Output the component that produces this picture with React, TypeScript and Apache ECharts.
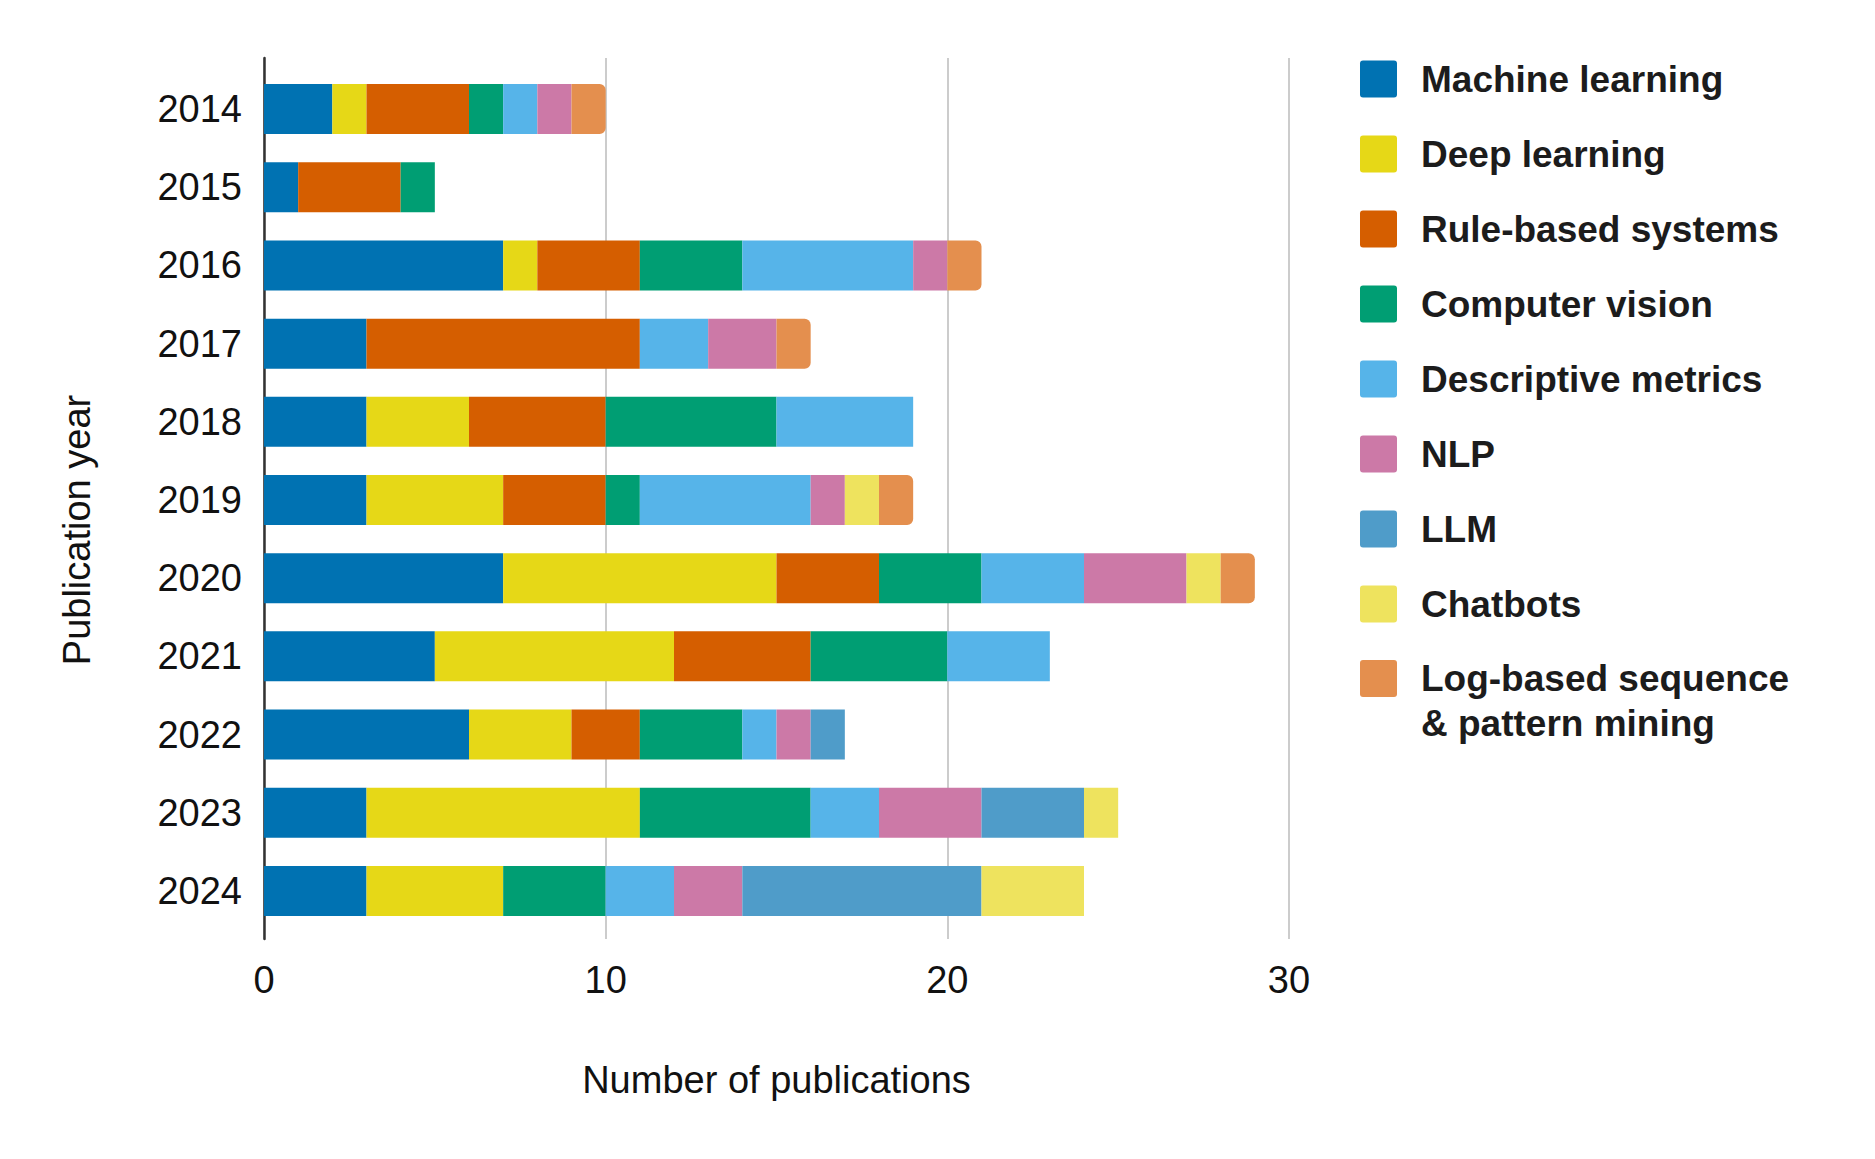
import React, { useEffect, useRef } from "react";
import * as echarts from "echarts";

const YEARS = ["2014", "2015", "2016", "2017", "2018", "2019", "2020", "2021", "2022", "2023", "2024"];
const SERIES_NAMES = [
  "Machine learning",
  "Deep learning",
  "Rule-based systems",
  "Computer vision",
  "Descriptive metrics",
  "NLP",
  "LLM",
  "Chatbots",
  "Log-based sequence & pattern mining",
];
const ML = [2, 1, 7, 3, 3, 3, 7, 5, 6, 3, 3];
const DL = [1, 0, 1, 0, 3, 4, 8, 7, 3, 8, 4];
const RULE = [3, 3, 3, 8, 4, 3, 3, 4, 2, 0, 0];
const CV = [1, 1, 3, 0, 5, 1, 3, 4, 3, 5, 3];
const DESC = [1, 0, 5, 2, 4, 5, 3, 3, 1, 2, 2];
const NLP = [1, 0, 1, 2, 0, 1, 3, 0, 1, 3, 2];
const LLM = [0, 0, 0, 0, 0, 0, 0, 0, 1, 3, 7];
const CHAT = [0, 0, 0, 0, 0, 1, 1, 0, 0, 1, 3];
const LOG = [1, 0, 1, 1, 0, 1, 1, 0, 0, 0, 0];
const X_TICKS = [0, 10, 20, 30];

const COLORS = ["#0072B2", "#E6D817", "#D55E00", "#009E73", "#56B4E9", "#CC79A7", "#4F9CC9", "#EEE35E", "#E48F4E"];
const VALUES = [ML, DL, RULE, CV, DESC, NLP, LLM, CHAT, LOG];

const FONT = "'Liberation Sans', Arial, Helvetica, sans-serif";
const ICON = "path://M3,0H34A3,3,0,0,1,37,3V34A3,3,0,0,1,34,37H3A3,3,0,0,1,0,34V3A3,3,0,0,1,3,0Z";

export default function App() {
  const ref = useRef<HTMLDivElement>(null);

  useEffect(() => {
    if (!ref.current) return;
    const chart = echarts.init(ref.current, undefined, { renderer: "svg" });
    const lastName = SERIES_NAMES[SERIES_NAMES.length - 1];

    const series = SERIES_NAMES.map((name, i) => ({
      name,
      type: "bar",
      stack: "total",
      xAxisIndex: 0,
      yAxisIndex: 0,
      barWidth: 50,
      data: VALUES[i],
      itemStyle: {
        color: COLORS[i],
        borderRadius: name === lastName ? [0, 6, 6, 0] : 0,
      },
      emphasis: { disabled: true },
    }));

    const legendCommon = {
      orient: "vertical",
      left: 1355,
      itemWidth: 37,
      itemHeight: 37,
      itemGap: 29,
      icon: ICON,
      selectedMode: false,
    };

    chart.setOption({
      animation: false,
      backgroundColor: "#ffffff",
      textStyle: { fontFamily: FONT },
      grid: [
        { left: 264, right: 586, top: 70, height: 860, containLabel: false },
        { left: 264, right: 586, top: 58, height: 881, containLabel: false },
      ],
      xAxis: [
        { type: "value", gridIndex: 0, min: 0, max: 30, interval: 10, show: false },
        {
          type: "value",
          gridIndex: 1,
          min: 0,
          max: 30,
          interval: 10,
          axisLine: { show: false },
          axisTick: { show: false },
          axisLabel: {
            show: true,
            margin: 22,
            fontSize: 38,
            color: "#111111",
            fontFamily: FONT,
            formatter: (v: number) => (X_TICKS.includes(v) ? String(v) : ""),
          },
          splitLine: { show: true, lineStyle: { color: "#cccccc", width: 2 } },
          name: "Number of publications",
          nameLocation: "middle",
          nameGap: 122,
          nameTextStyle: { fontSize: 38, color: "#111111", fontFamily: FONT },
        },
      ],
      yAxis: [
        {
          type: "category",
          gridIndex: 0,
          data: YEARS,
          inverse: true,
          axisLine: { show: false },
          axisTick: { show: false },
          axisLabel: { margin: 22, fontSize: 38, color: "#111111", fontFamily: FONT },
          splitLine: { show: false },
        },
        {
          type: "value",
          gridIndex: 1,
          min: 0,
          max: 1,
          axisLine: { show: true, onZero: false, lineStyle: { color: "#333333", width: 2.5 } },
          axisTick: { show: false },
          axisLabel: { show: false },
          splitLine: { show: false },
        },
      ],
      legend: [
        {
          ...legendCommon,
          top: 51,
          data: SERIES_NAMES.slice(0, 8),
          textStyle: {
            fontSize: 37,
            fontWeight: "bold",
            color: "#1c1c1c",
            fontFamily: FONT,
            lineHeight: 46,
            padding: [0, 0, 0, 19],
          },
        },
        {
          ...legendCommon,
          top: 606,
          data: [lastName],
          formatter: () => " \nLog-based sequence\n& pattern mining",
          textStyle: {
            fontSize: 37,
            fontWeight: "bold",
            color: "#1c1c1c",
            fontFamily: FONT,
            lineHeight: 45,
            padding: [0, 0, 0, 19],
          },
        },
      ],
      graphic: [
        {
          type: "text",
          x: 77,
          y: 530,
          rotation: Math.PI / 2,
          style: {
            text: "Publication year",
            fontSize: 38,
            fontFamily: FONT,
            fill: "#111111",
            align: "center",
            verticalAlign: "middle",
          },
        },
      ],
      series,
    });

    return () => chart.dispose();
  }, []);

  return (
    <div
      ref={ref}
      style={{ position: "absolute", left: 0, top: 0, width: 1875, height: 1159 }}
    />
  );
}
